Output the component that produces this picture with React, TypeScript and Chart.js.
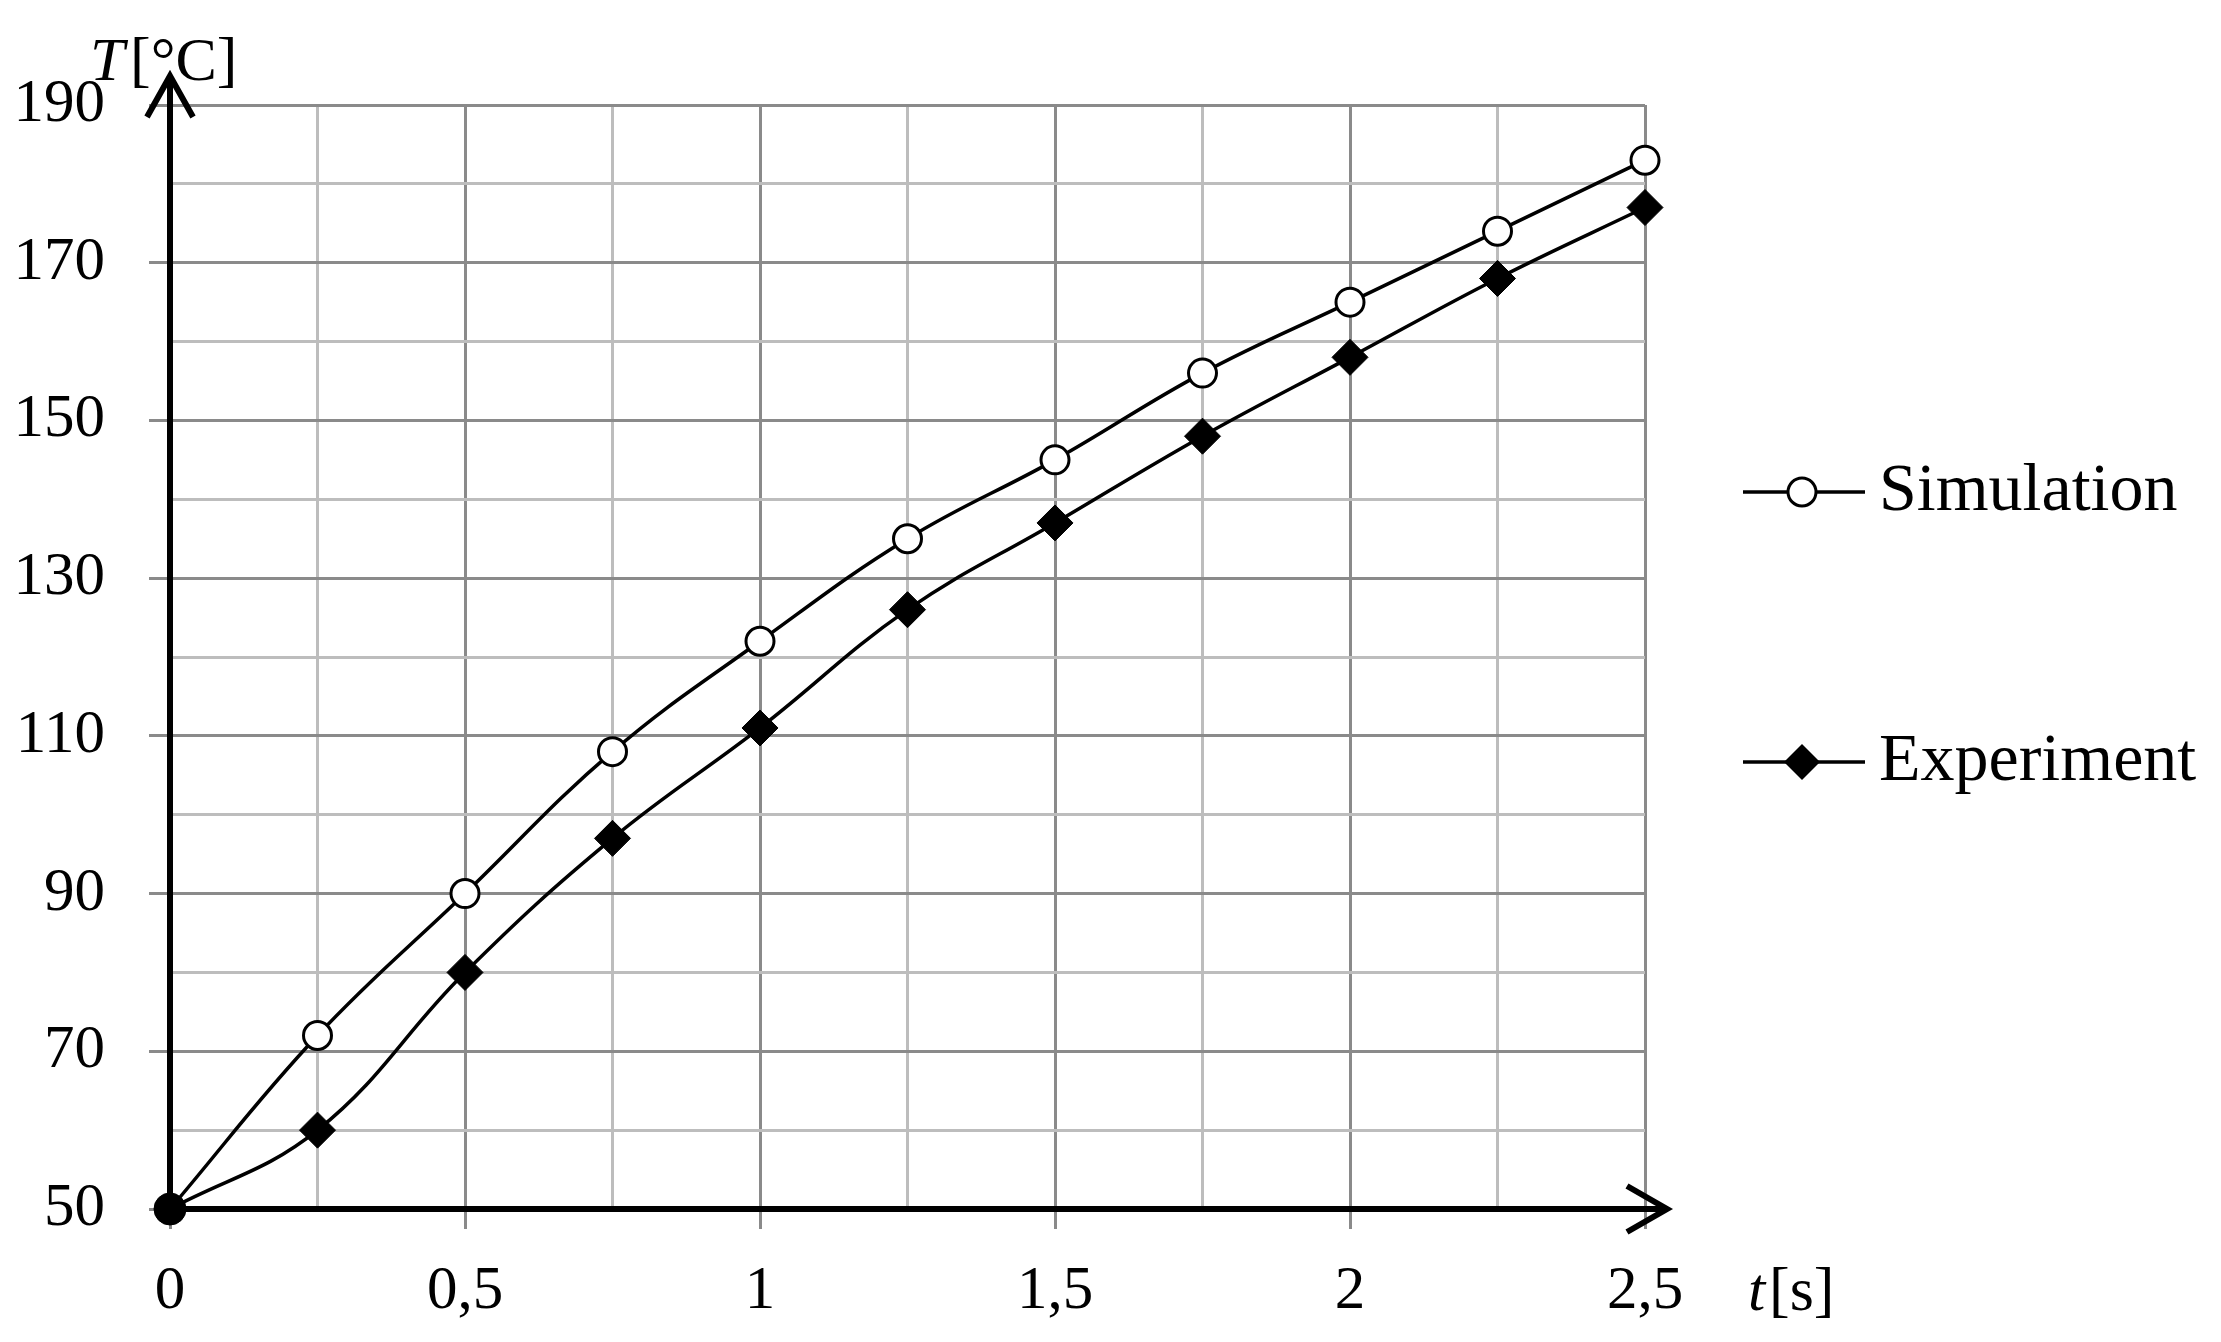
import React, { useEffect, useRef } from 'react';
import { Chart, registerables } from 'chart.js';

Chart.register(...registerables);

// ---- data ----
const timeValues = [0, 0.25, 0.5, 0.75, 1, 1.25, 1.5, 1.75, 2, 2.25, 2.5];
const simulationValues = [50, 72, 90, 108, 122, 135, 145, 156, 165, 174, 183];
const experimentValues = [50, 60, 80, 97, 111, 126, 137, 148, 158, 168, 177];
const seriesLabels = ['Simulation', 'Experiment'];
const yAxisTitle = ['T', '[°C]'];
const xAxisTitle = ['t', '[s]'];
const xMin = 0;
const xMax = 2.5;
const xStep = 0.25;
const xLabelStep = 0.5;
const yMin = 50;
const yMax = 190;
const yStep = 10;
const yLabelStep = 20;

const FONT = '"Liberation Serif", "Times New Roman", serif';
const MAJOR = '#8a8a8a';
const MINOR = '#bdbdbd';

const axesPlugin = {
  id: 'arrowAxes',
  beforeDatasetsDraw(chart: any) {
    const { ctx, chartArea, scales } = chart;
    const x0 = scales.x.getPixelForValue(xMin);
    const y0 = scales.y.getPixelForValue(yMin);
    const topTip = chartArea.top - 32;
    const rightTip = chartArea.right + 25;
    ctx.save();
    ctx.strokeStyle = '#000';
    ctx.lineWidth = 6;
    ctx.lineCap = 'butt';
    ctx.lineJoin = 'miter';
    // y axis
    ctx.beginPath();
    ctx.moveTo(x0, y0 + 3);
    ctx.lineTo(x0, topTip + 2);
    ctx.stroke();
    ctx.beginPath();
    ctx.moveTo(x0 - 23, topTip + 44);
    ctx.lineTo(x0, topTip + 3);
    ctx.lineTo(x0 + 23, topTip + 44);
    ctx.stroke();
    // x axis
    ctx.beginPath();
    ctx.moveTo(x0 - 3, y0);
    ctx.lineTo(rightTip - 2, y0);
    ctx.stroke();
    ctx.beginPath();
    ctx.moveTo(rightTip - 43, y0 - 23);
    ctx.lineTo(rightTip - 3, y0);
    ctx.lineTo(rightTip - 43, y0 + 23);
    ctx.stroke();
    ctx.restore();
  },
  afterDraw(chart: any) {
    const { ctx, chartArea } = chart;
    ctx.save();
    ctx.fillStyle = '#000';
    ctx.textBaseline = 'alphabetic';
    ctx.textAlign = 'left';
    // y title
    ctx.font = `italic 62px ${FONT}`;
    ctx.fillText(yAxisTitle[0], chartArea.left - 80, chartArea.top - 25);
    ctx.font = `62px ${FONT}`;
    ctx.fillText(yAxisTitle[1], chartArea.left - 40, chartArea.top - 25);
    // x title
    ctx.font = `italic 62px ${FONT}`;
    ctx.fillText(xAxisTitle[0], chartArea.right + 103, chartArea.bottom + 101);
    ctx.font = `62px ${FONT}`;
    ctx.fillText(xAxisTitle[1], chartArea.right + 124, chartArea.bottom + 101);

    // legend
    const legendX = chartArea.right + 98;
    const rows = [chartArea.top + 387, chartArea.top + 657];
    chart.data.datasets.forEach((ds: any, i: number) => {
      const cy = rows[i];
      ctx.strokeStyle = '#000';
      ctx.lineWidth = 3.5;
      ctx.beginPath();
      ctx.moveTo(legendX, cy);
      ctx.lineTo(legendX + 122, cy);
      ctx.stroke();
      const cx = legendX + 59;
      ctx.beginPath();
      if (i === 0) {
        ctx.arc(cx, cy, 14, 0, Math.PI * 2);
        ctx.fillStyle = '#fff';
        ctx.fill();
        ctx.lineWidth = 3;
        ctx.stroke();
      } else {
        const r = 18;
        ctx.moveTo(cx, cy - r);
        ctx.lineTo(cx + r, cy);
        ctx.lineTo(cx, cy + r);
        ctx.lineTo(cx - r, cy);
        ctx.closePath();
        ctx.fillStyle = '#000';
        ctx.fill();
      }
      ctx.fillStyle = '#000';
      ctx.font = `68px ${FONT}`;
      ctx.fillText(ds.label, legendX + 136, cy + 18);
    });
    ctx.restore();
  },
};

function isMultiple(v: number, base: number, step: number) {
  const r = (v - base) / step;
  return Math.abs(r - Math.round(r)) < 1e-6;
}

export default function App() {
  const canvasRef = useRef<HTMLCanvasElement>(null);

  useEffect(() => {
    document.body.style.margin = '0';
    document.body.style.overflow = 'hidden';
    const canvas = canvasRef.current;
    if (!canvas) return;

    const simPoints = timeValues.map((t, i) => ({ x: t, y: simulationValues[i] }));
    const expPoints = timeValues.map((t, i) => ({ x: t, y: experimentValues[i] }));

    const chart = new Chart(canvas, {
      type: 'line',
      data: {
        datasets: [
          {
            label: seriesLabels[0],
            data: simPoints,
            borderColor: '#000',
            borderWidth: 3.5,
            tension: 0.4,
            clip: false,
            pointStyle: 'circle',
            pointRadius: 14,
            pointBorderWidth: 3,
            pointBackgroundColor: '#fff',
            pointBorderColor: '#000',
            order: 1,
          },
          {
            label: seriesLabels[1],
            data: expPoints,
            borderColor: '#000',
            borderWidth: 3.5,
            tension: 0.4,
            clip: false,
            pointStyle: expPoints.map((_, i) => (i === 0 ? 'circle' : 'rectRot')) as any,
            pointRadius: expPoints.map((_, i) => (i === 0 ? 16 : 18)),
            pointBorderWidth: 1,
            pointBackgroundColor: '#000',
            pointBorderColor: '#000',
            order: 0,
          },
        ],
      },
      options: {
        responsive: false,
        animation: false,
        devicePixelRatio: 1,
        layout: { padding: { top: 105, right: 576, left: 0, bottom: 0 } },
        plugins: {
          legend: { display: false },
          tooltip: { enabled: false },
        },
        scales: {
          x: {
            type: 'linear',
            min: xMin,
            max: xMax,
            afterFit: (s: any) => {
              s.height = 133;
            },
            border: { display: false },
            grid: {
              color: (c: any) => (isMultiple(c.tick.value, xMin, xLabelStep) ? MAJOR : MINOR),
              tickColor: (c: any) => (isMultiple(c.tick.value, xMin, xLabelStep) ? MAJOR : 'rgba(0,0,0,0)'),
              lineWidth: 3,
              tickLength: 20,
              drawTicks: true,
            },
            ticks: {
              stepSize: xStep,
              autoSkip: false,
              maxRotation: 0,
              padding: 26,
              color: '#000',
              font: { family: FONT, size: 61 },
              callback: (v: any) => {
                const n = Number(v);
                return isMultiple(n, xMin, xLabelStep) ? String(n).replace('.', ',') : '';
              },
            },
          },
          y: {
            type: 'linear',
            min: yMin,
            max: yMax,
            afterFit: (s: any) => {
              s.width = 170;
            },
            border: { display: false },
            grid: {
              color: (c: any) => (isMultiple(c.tick.value, yMin, yLabelStep) ? MAJOR : MINOR),
              tickColor: (c: any) => (isMultiple(c.tick.value, yMin, yLabelStep) ? MAJOR : 'rgba(0,0,0,0)'),
              lineWidth: 3,
              tickLength: 21,
              drawTicks: true,
            },
            ticks: {
              stepSize: yStep,
              autoSkip: false,
              padding: 44,
              crossAlign: 'near',
              color: '#000',
              font: { family: FONT, size: 61 },
              callback: (v: any) => {
                const n = Number(v);
                return isMultiple(n, yMin, yLabelStep) ? String(n) : '';
              },
            },
          },
        },
      },
      plugins: [axesPlugin],
    } as any);

    return () => chart.destroy();
  }, []);

  return (
    <div style={{ width: 2221, height: 1342, background: '#fff' }}>
      <canvas ref={canvasRef} width={2221} height={1342} style={{ display: 'block' }} />
    </div>
  );
}
